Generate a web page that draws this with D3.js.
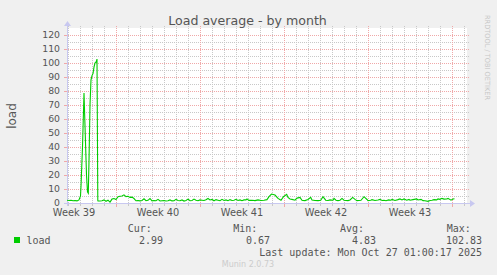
<!DOCTYPE html>
<html><head><meta charset="utf-8">
<script src="https://cdn.jsdelivr.net/npm/d3@7"></script>
<style>
html,body{margin:0;padding:0;background:#f0f0f0;}
svg{display:block;}
text{font-family:"DejaVu Sans",sans-serif;}
.mono{font-family:"DejaVu Sans Mono",monospace;}
</style></head>
<body>
<script>
// ---- data ----
const title = "Load average - by month";
const yLabel = "load";
const seriesName = "load";
const hoursSpan = 800; // graph covers 800 hours (2 h per pixel)
const yMax = 125;
const yTicks = [0,10,20,30,40,50,60,70,80,90,100,110,120];
const weekLabels = ["Week 39","Week 40","Week 41","Week 42","Week 43"];
const weekLabelHours = [14,182,350,518,686];
const weekLineHours = [98,266,434,602,770];
const legendHeaders = ["Cur:","Min:","Avg:","Max:"];
const legendValues = ["2.99","0.67","4.83","102.83"];
const lastUpdate = "Last update: Mon Oct 27 01:00:17 2025";
const footer = "Munin 2.0.73";
const watermark = "RRDTOOL / TOBI OETIKER";

const sampleHours = [0,4,8,12,16,20,24,27,28,31,34,36,39,41,42.6,44,46,48,50,52,54,56,58.6,60,61.6,62,
 66,70,74,78,82,86,90,94,98,102,106,110,114,118,122,126,130,134,138,142,146,150,154,158,162,166,170,174,178,182,186,190,194,198,
 202,206,210,214,218,222,226,230,234,238,242,246,250,254,258,262,266,270,274,278,282,286,290,294,298,302,306,310,314,318,322,326,330,334,338,342,346,350,354,358,
 360,364,370,376,382,388,394,400,404,409,416,422,428,433,439.4,442,446,450,456,460,466,470,472,476,482,487.4,490,496,502,507.4,512,517.4,522,526,532,534,538,542,546,550,554,558,
 562,566,571.4,576,580,584,588,594,600,602,607.4,610,616,622,626,630,634,638,643.4,648,650,656,662,666,670,674,679.4,684,686,692,699.4,702,708,712,716,722,726,730,734,739.4,742,746,750,754,759.4,762,768,772,775,779.4,782,784,786,788.6,791.4,794,796];
const loadValues = [2,1.8,2,1.6,1.8,1.5,2.2,5,12,40,78.5,55,20,8,7,30,70,88,91,92.5,97,100,101,102.8,2,1.5,
 1.4,1.6,2.2,1.2,2.0,0.6,2.8,3.2,2.5,4.5,4.8,5.0,5.8,4.6,4.8,4.0,4.2,3.2,1.6,1.8,1.5,1.8,3.0,1.6,1.9,3.2,1.5,1.8,1.6,2.6,1.4,1.6,1.8,1.4,
 1.6,2.2,1.5,1.6,2.6,1.8,1.6,2.2,1.4,1.8,2.8,1.6,1.8,2.8,1.9,1.6,2.2,2.0,1.8,2.4,3.2,2.2,2.6,1.6,2.4,2.0,1.6,2.6,1.8,2.2,1.6,2.4,1.8,2.0,2.6,1.8,2.2,1.6,2.2,2.2,
 2.9,1.9,2.0,1.7,2.2,1.8,2.0,2.4,4.5,6.4,5.7,3.3,2.0,4.5,6.2,4.0,2.9,2.6,2.0,3.5,4.0,2.0,1.8,1.7,2.5,4.0,2.2,1.8,1.7,2.0,4.5,2.0,1.8,2.2,2.0,3.3,2.0,1.7,2.0,3.3,2.0,1.8,
 1.7,2.2,4.0,2.6,1.7,1.8,1.9,4.5,2.5,1.7,2.0,2.4,1.8,2.2,2.6,1.8,2.0,1.6,2.2,2.0,2.6,1.8,2.4,2.9,2.2,2.9,2.0,2.6,2.0,2.4,2.9,2.2,2.6,1.7,1.6,1.2,1.8,2.0,2.4,2.2,2.9,2.6,3.3,2.8,2.9,3.3,2.0,2.8,3.0];

// ---- layout ----
const W = 497, H = 275;
const X0 = 67, X1 = 467, Y0 = 203, Y1 = 28;
const svg = d3.select("body").append("svg").attr("width", W).attr("height", H);
svg.append("rect").attr("width", W).attr("height", H).attr("fill", "#f0f0f0");

const x = d3.scaleLinear().domain([0, hoursSpan]).range([X0, X1]);
const y = d3.scaleLinear().domain([0, yMax]).range([Y0, Y1]);

svg.append("rect").attr("x", X0).attr("y", Y1).attr("width", X1 - X0).attr("height", Y0 - Y1).attr("fill", "#ffffff");

const minorCol = "#c8c8c8", majorCol = "#f0a8a8";
// dotted patterns (1 px on, 1 px off)
const defs = svg.append("defs");
function dotPattern(id, col, horiz) {
  const p = defs.append("pattern").attr("id", id).attr("patternUnits", "userSpaceOnUse")
    .attr("width", horiz ? 2 : 1).attr("height", horiz ? 1 : 2);
  p.append("rect").attr("width", 1).attr("height", 1).attr("fill", col);
}
dotPattern("minH", minorCol, true); dotPattern("minV", minorCol, false);
dotPattern("majH", majorCol, true); dotPattern("majV", majorCol, false);

const g = svg.append("g").attr("shape-rendering", "crispEdges");
const minorY = d3.range(5, yMax, 5).filter(v => v % 10 !== 0);
const dayHours = d3.range(2, hoursSpan + 1, 24).filter(h => !weekLineHours.includes(h));
function hLines(data, pat) {
  g.append("g").selectAll("rect").data(data).join("rect")
    .attr("x", X0 + 1).attr("width", X1 - X0 + 2).attr("y", d => Math.round(y(d))).attr("height", 1)
    .attr("fill", `url(#${pat})`);
}
function vLines(data, pat) {
  g.append("g").selectAll("rect").data(data).join("rect")
    .attr("x", d => Math.round(x(d))).attr("width", 1).attr("y", Y1 - 2).attr("height", Y0 - Y1 + 2)
    .attr("fill", `url(#${pat})`);
}
hLines(minorY, "minH"); vLines(dayHours, "minV");
hLines(yTicks.filter(v => v > 0), "majH"); vLines(weekLineHours, "majV");

// ticks
g.selectAll(".ty").data(yTicks.filter(v => v > 0)).join("rect")
  .attr("x", X0 - 3).attr("width", 3).attr("y", d => Math.round(y(d))).attr("height", 1).attr("fill", majorCol);
g.selectAll(".tx").data(weekLineHours).join("rect")
  .attr("x", d => Math.round(x(d))).attr("width", 1).attr("y", Y0 + 1).attr("height", 3).attr("fill", majorCol);
g.selectAll(".tdx").data(dayHours).join("rect")
  .attr("x", d => Math.round(x(d))).attr("width", 1).attr("y", Y0 + 1).attr("height", 2).attr("fill", minorCol);

// axes
const axisColor = "#c8c8f0";
svg.append("line").attr("x1", X0 - 3).attr("x2", X1 + 3).attr("y1", Y0 + 0.5).attr("y2", Y0 + 0.5).attr("stroke", axisColor);
svg.append("line").attr("x1", X0 + 0.5).attr("x2", X0 + 0.5).attr("y1", Y0 + 3).attr("y2", Y1 - 3).attr("stroke", axisColor);
svg.append("path").attr("d", `M${X1 + 3},${Y0 - 3} L${X1 + 8},${Y0 + 0.5} L${X1 + 3},${Y0 + 4} Z`).attr("fill", axisColor);
svg.append("path").attr("d", `M${X0 - 3},${Y1 - 2} L${X0 + 0.5},${Y1 - 7} L${X0 + 4},${Y1 - 2} Z`).attr("fill", axisColor);

// y labels
svg.selectAll(".yl").data(yTicks).join("text")
  .attr("x", X0 - 7).attr("y", d => y(d) + 3.3).attr("text-anchor", "end")
  .attr("font-size", 9.3).attr("fill", "#555").text(d => d);
// week labels
svg.selectAll(".wl").data(weekLabels).join("text")
  .attr("x", (d, i) => x(weekLabelHours[i])).attr("y", 216).attr("text-anchor", "middle")
  .attr("font-size", 9.8).attr("fill", "#555").text(d => d);

// data line
const pts = sampleHours.map((h, i) => [h, loadValues[i]]);
svg.append("path").datum(pts)
  .attr("d", d3.line().x(d => x(d[0])).y(d => y(d[1])))
  .attr("fill", "none").attr("stroke", "#00cc00").attr("stroke-width", 1.1);

// title & labels
svg.append("text").attr("x", 247.5).attr("y", 24.5).attr("text-anchor", "middle")
  .attr("font-size", 12.6).attr("fill", "#555").text(title);
svg.append("text").attr("transform", "translate(15.5,116) rotate(-90)").attr("text-anchor", "middle")
  .attr("font-size", 12).attr("fill", "#555").text(yLabel);
svg.append("text").attr("transform", "translate(485,15) rotate(90)").attr("text-anchor", "start")
  .attr("textLength", 85).attr("lengthAdjust", "spacingAndGlyphs")
  .attr("font-size", 7).attr("fill", "#c8c8c8").text(watermark);

// legend
svg.append("rect").attr("x", 14).attr("y", 237).attr("width", 6).attr("height", 6).attr("fill", "#00cc00");
svg.append("text").attr("class", "mono").attr("x", 26.5).attr("y", 243.5)
  .attr("font-size", 10).attr("fill", "#555").text(seriesName);
const headerX = [127.7, 233.3, 340, 446.7];
const valueRight = [163, 270, 376, 482];
svg.selectAll(".lh").data(legendHeaders).join("text").attr("class", "mono")
  .attr("x", (d, i) => headerX[i]).attr("y", 231.5).attr("font-size", 10).attr("fill", "#555").text(d => d);
svg.selectAll(".lv").data(legendValues).join("text").attr("class", "mono")
  .attr("x", (d, i) => valueRight[i]).attr("y", 243.5).attr("text-anchor", "end")
  .attr("font-size", 10).attr("fill", "#555").text(d => d);
svg.append("text").attr("class", "mono").attr("x", 482).attr("y", 255.5).attr("text-anchor", "end")
  .attr("font-size", 10).attr("fill", "#555").text(lastUpdate);
svg.append("text").attr("x", 248).attr("y", 267).attr("text-anchor", "middle")
  .attr("font-size", 8).attr("fill", "#cccccc").text(footer);
</script>
</body></html>
